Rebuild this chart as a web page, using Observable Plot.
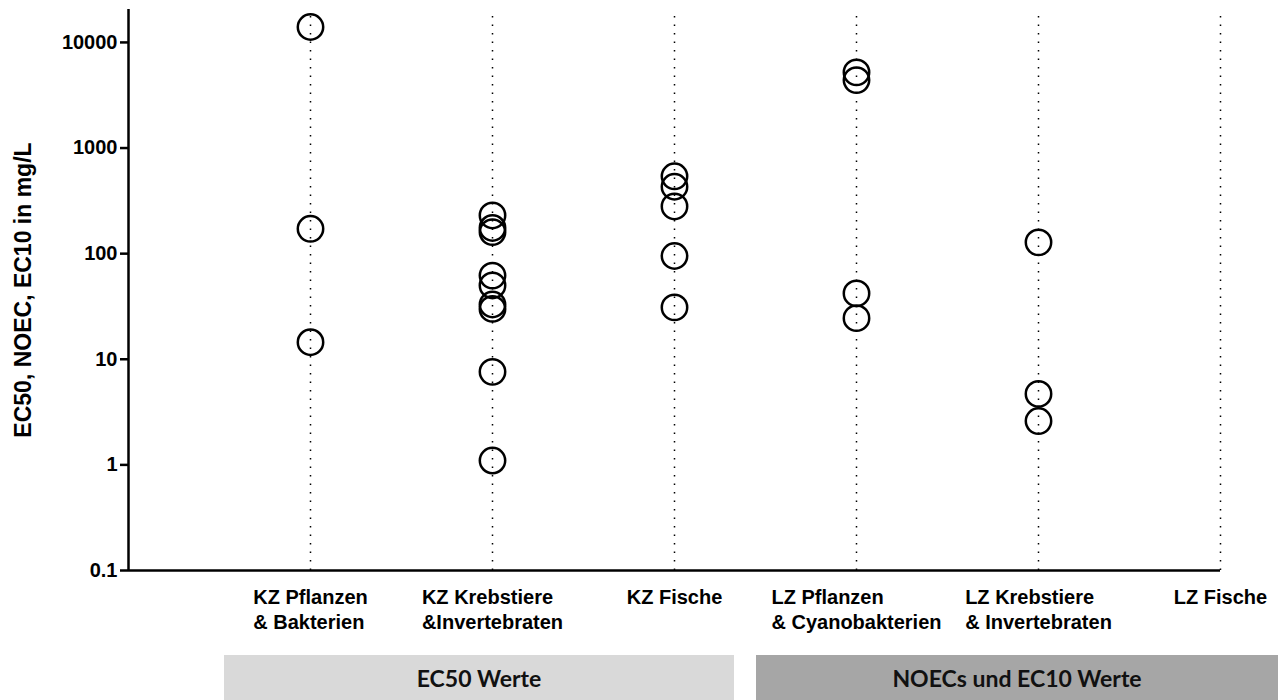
<!DOCTYPE html>
<html>
<head>
<meta charset="utf-8">
<script src="https://cdn.jsdelivr.net/npm/d3@7"></script>
<script src="https://cdn.jsdelivr.net/npm/@observablehq/plot@0.6"></script>
<style>
  html, body { margin: 0; padding: 0; background: #fff; }
  #wrap { width: 1278px; height: 700px; position: relative; overflow: hidden; }
  #chart svg, #chart svg text { font-family: "Liberation Sans", Arial, sans-serif !important; }
  #groups { position: absolute; top: 655px; left: 0; width: 1278px; height: 45px; }
  .grp { position: absolute; top: 0; height: 45px; display: flex; align-items: center; justify-content: center;
         font-family: Lato, "Open Sans", sans-serif; font-weight: 700; font-size: 23px; color: #111; }
</style>
</head>
<body>
<div id="wrap">
  <div id="chart"></div>
  <div id="groups"></div>
</div>
<script>
// Categories (x positions 1..6)
const categories = [
  "KZ Pflanzen\n& Bakterien",
  "KZ Krebstiere\n&Invertebraten",
  "KZ Fische",
  "LZ Pflanzen\n& Cyanobakterien",
  "LZ Krebstiere\n& Invertebraten",
  "LZ Fische"
];

// Values in mg/L per category
const kzPflanzen = [14000, 172, 14.5];
const kzKrebstiere = [230, 175, 160, 62, 50, 33, 30, 7.6, 1.1];
const kzFische = [540, 430, 280, 95, 31];
const lzPflanzen = [5200, 4400, 42, 24.5];
const lzKrebstiere = [128, 4.7, 2.6];
const lzFische = [];

const yTicks = [0.1, 1, 10, 100, 1000, 10000];
const yTitle = "EC50, NOEC, EC10 in mg/L";
const groupLabels = ["EC50 Werte", "NOECs und EC10 Werte"];
const groupColors = ["#d9d9d9", "#a6a6a6"];

const series = [kzPflanzen, kzKrebstiere, kzFische, lzPflanzen, lzKrebstiere, lzFische];
const rows = series.flatMap((vals, i) => vals.map(v => ({cat: i + 1, value: v})));
const catIdx = categories.map((_, i) => i + 1);

const yMin = 0.1, yMax = 20500;

const chart = Plot.plot({
  width: 1278,
  height: 655,
  marginLeft: 128,
  marginRight: 58,
  marginTop: 9,
  marginBottom: 85,
  style: {fontFamily: "Liberation Sans, Arial, sans-serif", color: "#000", background: "#fff"},
  x: {type: "linear", domain: [0, 6]},
  y: {type: "log", domain: [yMin, yMax]},
  marks: [
    Plot.ruleX(catIdx, {x: d => d, y1: yMin, y2: yMax, stroke: "#000", strokeWidth: 1.5, strokeDasharray: "1.5 7"}),
    Plot.dot(rows, {x: "cat", y: "value", r: 12.7, stroke: "#000", strokeWidth: 2.5, fill: "none"}),
    Plot.axisY({ticks: yTicks, tickFormat: d => String(d), tickSize: 8, tickPadding: 3,
                fontSize: 20, fontWeight: "bold", strokeWidth: 2.5, label: null}),
    Plot.axisX({ticks: catIdx, tickFormat: i => categories[i - 1], tickSize: 0, tickPadding: 16,
                fontSize: 20, fontWeight: "bold", lineHeight: 1.25, label: null}),
    Plot.ruleX([0], {y1: yMin, y2: yMax, stroke: "#000", strokeWidth: 2.5}),
    Plot.ruleY([yMin], {x1: 0, x2: 6, stroke: "#000", strokeWidth: 2.5}),
    Plot.text([yTitle], {frameAnchor: "left", textAnchor: "middle", lineAnchor: "middle", dx: -105, rotate: -90,
                         fontSize: 23, fontWeight: "bold", fill: "#000"})
  ]
});
document.getElementById("chart").appendChild(chart);

// left-align multi-line category labels as a block centered on the category
chart.querySelectorAll('g[aria-label="x-axis tick label"] text').forEach(t => {
  const w = t.getBBox().width;
  t.setAttribute("text-anchor", "start");
  const tr = t.getAttribute("transform") || "";
  t.setAttribute("transform", tr + ` translate(${-w / 2},0)`);
});

// group boxes below the chart
const groupsDiv = document.getElementById("groups");
const boxSpec = [[224, 510], [756, 522]];
groupLabels.forEach((lab, i) => {
  const d = document.createElement("div");
  d.className = "grp";
  d.style.left = boxSpec[i][0] + "px";
  d.style.width = boxSpec[i][1] + "px";
  d.style.background = groupColors[i];
  d.textContent = lab;
  groupsDiv.appendChild(d);
});
</script>
</body>
</html>
